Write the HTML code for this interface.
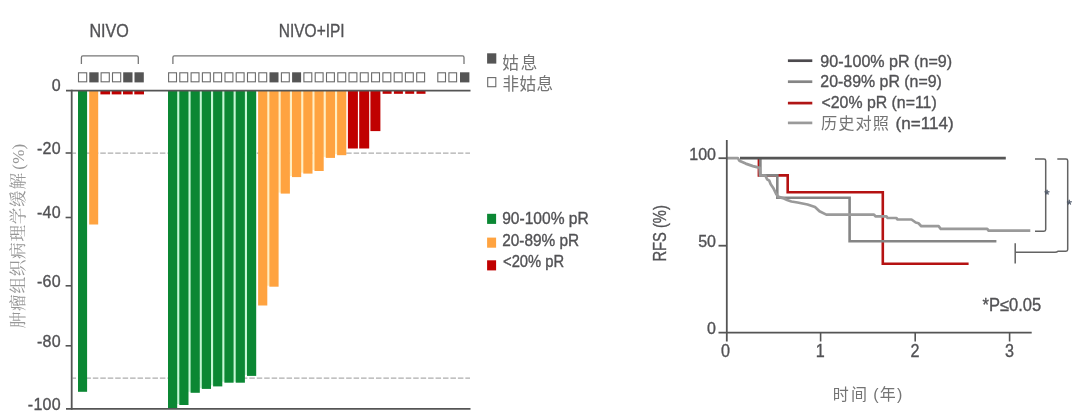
<!DOCTYPE html>
<html lang="zh"><head><meta charset="utf-8"><title>pR / RFS</title>
<style>
html,body{margin:0;padding:0;background:#fff;}
body{width:1080px;height:420px;overflow:hidden;}
svg{display:block;}
text{font-family:"Liberation Sans","Noto Sans CJK SC",sans-serif;fill:#525255;stroke:#525255;stroke-width:.35px;}
.cj{font-family:"Liberation Sans","Noto Sans CJK SC",sans-serif;font-weight:400;fill:#747474;stroke:none;}
.sf{font-family:"Liberation Serif","Noto Serif CJK SC",serif;font-weight:400;fill:#969696;stroke:none;}
</style></head><body>
<svg width="1080" height="420" viewBox="0 0 1080 420">
<rect x="0" y="0" width="1080" height="420" fill="#fff"/>

<g stroke="#adadad" stroke-width="1.25" stroke-dasharray="5.5 1.95" stroke-dashoffset="2" fill="none">
<line x1="72.5" y1="153.1" x2="470" y2="153.1"/>
<line x1="72.5" y1="378.1" x2="470" y2="378.1"/>
</g>
<rect x="78.0" y="90.6" width="9.1" height="301.2" fill="#0b8733"/>
<rect x="89.2" y="90.6" width="9.0" height="133.9" fill="#ffa340"/>
<rect x="100.4" y="90.6" width="9.7" height="3.8" fill="#c00000"/>
<rect x="111.7" y="90.6" width="9.7" height="3.8" fill="#c00000"/>
<rect x="123.0" y="90.6" width="9.7" height="3.8" fill="#c00000"/>
<rect x="134.3" y="90.6" width="9.7" height="3.8" fill="#c00000"/>
<rect x="176.9" y="90.6" width="2.9" height="313.4" fill="#c4f6d4"/>
<rect x="188.2" y="90.6" width="2.9" height="301.2" fill="#c4f6d4"/>
<rect x="199.5" y="90.6" width="2.9" height="297.3" fill="#c4f6d4"/>
<rect x="210.7" y="90.6" width="2.9" height="294.8" fill="#c4f6d4"/>
<rect x="222.0" y="90.6" width="2.9" height="291.1" fill="#c4f6d4"/>
<rect x="233.3" y="90.6" width="2.9" height="291.1" fill="#c4f6d4"/>
<rect x="244.6" y="90.6" width="2.9" height="284.3" fill="#c4f6d4"/>
<rect x="267.1" y="90.6" width="2.9" height="195.1" fill="#ffeec2"/>
<rect x="278.4" y="90.6" width="2.9" height="102.0" fill="#ffeec2"/>
<rect x="289.7" y="90.6" width="2.9" height="85.5" fill="#ffeec2"/>
<rect x="301.0" y="90.6" width="2.9" height="82.0" fill="#ffeec2"/>
<rect x="312.3" y="90.6" width="2.9" height="79.4" fill="#ffeec2"/>
<rect x="323.5" y="90.6" width="2.9" height="66.3" fill="#ffeec2"/>
<rect x="334.8" y="90.6" width="2.9" height="63.6" fill="#ffeec2"/>
<rect x="168.0" y="90.6" width="9.2" height="318.3" fill="#0b8733"/>
<rect x="179.3" y="90.6" width="9.2" height="314.4" fill="#0b8733"/>
<rect x="190.6" y="90.6" width="9.2" height="302.2" fill="#0b8733"/>
<rect x="201.8" y="90.6" width="9.2" height="298.3" fill="#0b8733"/>
<rect x="213.1" y="90.6" width="9.2" height="295.8" fill="#0b8733"/>
<rect x="224.4" y="90.6" width="9.2" height="292.1" fill="#0b8733"/>
<rect x="235.7" y="90.6" width="9.2" height="292.1" fill="#0b8733"/>
<rect x="247.0" y="90.6" width="9.2" height="285.3" fill="#0b8733"/>
<rect x="258.1" y="90.6" width="9.2" height="214.9" fill="#ffa340"/>
<rect x="269.4" y="90.6" width="9.2" height="196.1" fill="#ffa340"/>
<rect x="280.7" y="90.6" width="9.2" height="103.0" fill="#ffa340"/>
<rect x="292.0" y="90.6" width="9.2" height="86.5" fill="#ffa340"/>
<rect x="303.3" y="90.6" width="9.2" height="83.0" fill="#ffa340"/>
<rect x="314.5" y="90.6" width="9.2" height="80.4" fill="#ffa340"/>
<rect x="325.8" y="90.6" width="9.2" height="67.3" fill="#ffa340"/>
<rect x="337.1" y="90.6" width="9.2" height="64.6" fill="#ffa340"/>
<rect x="347.9" y="90.6" width="10.0" height="57.9" fill="#c00000"/>
<rect x="359.2" y="90.6" width="10.0" height="57.9" fill="#c00000"/>
<rect x="370.4" y="90.6" width="10.0" height="40.5" fill="#c00000"/>
<rect x="382.6" y="90.6" width="9.0" height="3.2" fill="#c00000"/>
<rect x="393.9" y="90.6" width="9.0" height="3.2" fill="#c00000"/>
<rect x="405.2" y="90.6" width="9.0" height="3.2" fill="#c00000"/>
<rect x="416.5" y="90.6" width="9.0" height="3.2" fill="#c00000"/>
<rect x="78.5" y="72.8" width="8.2" height="9.0" fill="#fff" stroke="#6a6a6a" stroke-width="1.1"/>
<rect x="89.3" y="72.3" width="9.3" height="10.1" fill="#555"/>
<rect x="101.1" y="72.8" width="8.2" height="9.0" fill="#fff" stroke="#6a6a6a" stroke-width="1.1"/>
<rect x="112.5" y="72.8" width="8.2" height="9.0" fill="#fff" stroke="#6a6a6a" stroke-width="1.1"/>
<rect x="123.2" y="72.3" width="9.3" height="10.1" fill="#555"/>
<rect x="134.5" y="72.3" width="9.3" height="10.1" fill="#555"/>
<rect x="168.6" y="72.8" width="7.9" height="9.0" fill="#fff" stroke="#6a6a6a" stroke-width="1.1"/>
<rect x="179.8" y="72.8" width="7.9" height="9.0" fill="#fff" stroke="#6a6a6a" stroke-width="1.1"/>
<rect x="191.1" y="72.8" width="7.9" height="9.0" fill="#fff" stroke="#6a6a6a" stroke-width="1.1"/>
<rect x="202.4" y="72.8" width="7.9" height="9.0" fill="#fff" stroke="#6a6a6a" stroke-width="1.1"/>
<rect x="213.7" y="72.8" width="7.9" height="9.0" fill="#fff" stroke="#6a6a6a" stroke-width="1.1"/>
<rect x="225.0" y="72.8" width="7.9" height="9.0" fill="#fff" stroke="#6a6a6a" stroke-width="1.1"/>
<rect x="236.2" y="72.8" width="7.9" height="9.0" fill="#fff" stroke="#6a6a6a" stroke-width="1.1"/>
<rect x="247.5" y="72.8" width="7.9" height="9.0" fill="#fff" stroke="#6a6a6a" stroke-width="1.1"/>
<rect x="258.8" y="72.8" width="7.9" height="9.0" fill="#fff" stroke="#6a6a6a" stroke-width="1.1"/>
<rect x="269.5" y="72.3" width="9.0" height="10.1" fill="#555"/>
<rect x="281.4" y="72.8" width="7.9" height="9.0" fill="#fff" stroke="#6a6a6a" stroke-width="1.1"/>
<rect x="292.1" y="72.3" width="9.0" height="10.1" fill="#555"/>
<rect x="303.9" y="72.8" width="7.9" height="9.0" fill="#fff" stroke="#6a6a6a" stroke-width="1.1"/>
<rect x="315.2" y="72.8" width="7.9" height="9.0" fill="#fff" stroke="#6a6a6a" stroke-width="1.1"/>
<rect x="326.5" y="72.8" width="7.9" height="9.0" fill="#fff" stroke="#6a6a6a" stroke-width="1.1"/>
<rect x="337.8" y="72.8" width="7.9" height="9.0" fill="#fff" stroke="#6a6a6a" stroke-width="1.1"/>
<rect x="349.0" y="72.8" width="7.9" height="9.0" fill="#fff" stroke="#6a6a6a" stroke-width="1.1"/>
<rect x="360.3" y="72.8" width="7.9" height="9.0" fill="#fff" stroke="#6a6a6a" stroke-width="1.1"/>
<rect x="371.6" y="72.8" width="7.9" height="9.0" fill="#fff" stroke="#6a6a6a" stroke-width="1.1"/>
<rect x="382.9" y="72.8" width="7.9" height="9.0" fill="#fff" stroke="#6a6a6a" stroke-width="1.1"/>
<rect x="394.2" y="72.8" width="7.9" height="9.0" fill="#fff" stroke="#6a6a6a" stroke-width="1.1"/>
<rect x="405.4" y="72.8" width="7.9" height="9.0" fill="#fff" stroke="#6a6a6a" stroke-width="1.1"/>
<rect x="416.7" y="72.8" width="7.9" height="9.0" fill="#fff" stroke="#6a6a6a" stroke-width="1.1"/>
<rect x="437.8" y="72.8" width="7.7" height="9.0" fill="#fff" stroke="#6a6a6a" stroke-width="1.1"/>
<rect x="448.9" y="72.8" width="7.7" height="9.0" fill="#fff" stroke="#6a6a6a" stroke-width="1.1"/>
<rect x="460.0" y="72.3" width="9.4" height="10.1" fill="#555"/>
<g stroke="#777" stroke-width="1.3" fill="none">
<path d="M81.4 64 V57.4 Q81.4 55.9 82.9 55.9 H136.8 Q138.3 55.9 138.3 57.4 V64"/>
<path d="M172.9 64 V57.4 Q172.9 55.9 174.4 55.9 H462.5 Q464 55.9 464 57.4 V64"/>
</g>
<g stroke="#555" stroke-width="1.8" fill="none">
<line x1="66" y1="90.6" x2="470.5" y2="90.6"/>
<line x1="71.7" y1="89.8" x2="71.7" y2="409.7"/>
<line x1="66" y1="408.8" x2="470.5" y2="408.8"/>
<line x1="65.6" y1="153.0" x2="71.6" y2="153.0" stroke-width="1.6"/>
<line x1="65.6" y1="217.5" x2="71.6" y2="217.5" stroke-width="1.6"/>
<line x1="65.6" y1="285.8" x2="71.6" y2="285.8" stroke-width="1.6"/>
<line x1="65.6" y1="345.8" x2="71.6" y2="345.8" stroke-width="1.6"/>
</g>
<text x="60.9" y="91.4" font-size="16" text-anchor="end" letter-spacing=".25">0</text>
<text x="60.9" y="153.8" font-size="16" text-anchor="end" letter-spacing=".25">-20</text>
<text x="60.9" y="218.3" font-size="16" text-anchor="end" letter-spacing=".25">-40</text>
<text x="60.9" y="286.6" font-size="16" text-anchor="end" letter-spacing=".25">-60</text>
<text x="60.9" y="346.6" font-size="16" text-anchor="end" letter-spacing=".25">-80</text>
<text x="60.9" y="409.6" font-size="16" text-anchor="end" letter-spacing=".25">-100</text>
<text x="89.4" y="37" font-size="18.3" textLength="39.4" lengthAdjust="spacingAndGlyphs">NIVO</text>
<text x="278.8" y="37" font-size="18.3" textLength="65.8" lengthAdjust="spacingAndGlyphs">NIVO+IPI</text>
<text class="sf" transform="translate(24 328.3) rotate(-90)" font-size="16.6" letter-spacing="0.75">肿瘤组织病理学缓解</text>
<text class="sf" transform="translate(24 169.8) rotate(-90)" font-size="17" letter-spacing="0.3">(%)</text>
<rect x="487.1" y="53.3" width="9.2" height="10.3" fill="#555"/>
<rect x="487.7" y="77.6" width="8.1" height="9.1" fill="#fff" stroke="#6a6a6a" stroke-width="1.1"/>
<text class="cj" x="502.2" y="69.0" font-size="16.6" letter-spacing="1.9">姑息</text>
<text class="cj" x="502.6" y="89.8" font-size="16.6" letter-spacing="0.4">非姑息</text>
<rect x="487.1" y="213.8" width="9" height="10.1" fill="#0b8733"/>
<rect x="487.1" y="237.6" width="9" height="10.1" fill="#ffa340"/>
<rect x="487.1" y="260.3" width="9" height="10.1" fill="#c00000"/>
<text x="502.2" y="224.3" font-size="15.6" textLength="86.6" lengthAdjust="spacingAndGlyphs">90-100% pR</text>
<text x="502.2" y="245.7" font-size="15.6" textLength="77" lengthAdjust="spacingAndGlyphs">20-89% pR</text>
<text x="503.0" y="266.7" font-size="15.6" textLength="61.2" lengthAdjust="spacingAndGlyphs">&lt;20% pR</text>
<line x1="787.9" y1="60.7" x2="812.3" y2="60.7" stroke="#4c4a4e" stroke-width="2.7"/>
<line x1="787.9" y1="81.7" x2="812.3" y2="81.7" stroke="#858585" stroke-width="2.7"/>
<line x1="787.9" y1="103.1" x2="812.3" y2="103.1" stroke="#b01515" stroke-width="2.7"/>
<line x1="787.9" y1="122.9" x2="812.3" y2="122.9" stroke="#9a9a9a" stroke-width="2.7"/>
<text x="820.3" y="66.5" font-size="16.2" textLength="131.8" lengthAdjust="spacingAndGlyphs">90-100% pR (n=9)</text>
<text x="820.3" y="86.6" font-size="16.2" textLength="121.6" lengthAdjust="spacingAndGlyphs">20-89% pR (n=9)</text>
<text x="821.5" y="107.8" font-size="16.2" textLength="115.2" lengthAdjust="spacingAndGlyphs">&lt;20% pR (n=11)</text>
<text class="cj" x="821.0" y="129.0" font-size="16.2" letter-spacing="1.1">历史对照</text>
<text x="895.6" y="128.6" font-size="16" textLength="58" lengthAdjust="spacingAndGlyphs">(n=114)</text>
<g fill="none" stroke-width="2.6" stroke-linejoin="miter">
<polyline stroke="#b51212" points="758.9,158.1 758.9,175.4 787.7,175.4 787.7,192.3 882.8,192.3 882.8,263.8 968.6,263.8"/>
<polyline stroke="#858585" points="760.4,158.1 760.4,175.4 777.3,175.4 777.3,197.8 849.6,197.8 849.6,241.3 996.4,241.3"/>
<polyline stroke="#9a9a9a" stroke-width="2.7" stroke-linejoin="round" points="727.0,158.1 737.9,158.2 739.3,160.7 745.7,163.6 752.9,166.1 757.9,167.4 759.6,167.6 760.0,175.4 765.4,175.6 767.1,179.3 769.3,180.7 770.7,184.3 773.6,188.6 776.4,194.3 777.9,196.6 782.9,198.1 787.1,200.0 791.4,201.5 797.5,202.5 807.5,204.5 815.0,207.0 819.5,211.3 826.3,214.6 874.0,214.6 875.5,216.4 886.4,216.4 887.6,218.0 896.3,218.0 897.6,219.5 911.5,219.5 915.7,222.5 918.5,223.3 921.3,226.2 938.6,226.2 940.7,228.9 987.2,228.9 988.6,230.7 1030.3,230.7"/>
<line stroke="#555" x1="740" y1="158.1" x2="1005.8" y2="158.1" stroke-width="2.6" stroke="#4c4a4e"/>
</g>
<g stroke="#555" stroke-width="1.8" fill="none">
<line x1="726.8" y1="140" x2="726.8" y2="341.5"/>
<line x1="718.5" y1="332.7" x2="1031.7" y2="332.7"/>
<line x1="718.5" y1="158.2" x2="726.8" y2="158.2"/>
<line x1="718.5" y1="245.7" x2="726.8" y2="245.7"/>
<line x1="820.6" y1="332.7" x2="820.6" y2="341.5" stroke-width="1.6"/>
<line x1="915.2" y1="332.7" x2="915.2" y2="341.5" stroke-width="1.6"/>
<line x1="1009.6" y1="332.7" x2="1009.6" y2="341.5" stroke-width="1.6"/>
</g>
<text x="716" y="159.6" font-size="16" text-anchor="end">100</text>
<text x="716" y="247.0" font-size="16" text-anchor="end">50</text>
<text x="716" y="334.4" font-size="16" text-anchor="end">0</text>
<text x="720.9" y="356.9" font-size="18" textLength="9" lengthAdjust="spacingAndGlyphs">0</text>
<text x="815.7" y="356.9" font-size="18" textLength="9" lengthAdjust="spacingAndGlyphs">1</text>
<text x="910.5" y="356.9" font-size="18" textLength="9" lengthAdjust="spacingAndGlyphs">2</text>
<text x="1004.9" y="356.9" font-size="18" textLength="9" lengthAdjust="spacingAndGlyphs">3</text>
<text transform="translate(666.2 261.6) rotate(-90)" font-size="17.6" textLength="56.4" lengthAdjust="spacingAndGlyphs">RFS (%)</text>
<text class="cj" x="832.8" y="400.2" font-size="16" letter-spacing="2.1">时间</text>
<text class="cj" x="873.2" y="400.2" font-size="16" letter-spacing="1.2">(年)</text>
<text x="982.6" y="310.6" font-size="17.6" textLength="58.6" lengthAdjust="spacingAndGlyphs">*P≤0.05</text>
<g stroke="#636363" stroke-width="1.5" fill="none">
<path d="M1035 159 H1044 Q1045.7 159 1045.7 160.7 V229.6 Q1045.7 231.3 1044 231.3 H1035"/>
<path d="M1057.3 159 H1066 Q1067.7 159 1067.7 160.7 V249.5 Q1067.7 251.2 1066 251.2 H1058 Q1057 252.2 1055 252.2 H1015.2"/>
<line x1="1015.2" y1="243.3" x2="1015.2" y2="263.5"/>
</g>
<text x="1047" y="198.8" font-size="13" text-anchor="middle" style="fill:#4b5566;stroke:#4b5566">*</text>
<text x="1069.2" y="209.3" font-size="13" text-anchor="middle" style="fill:#4b5566;stroke:#4b5566">*</text>
</svg></body></html>
